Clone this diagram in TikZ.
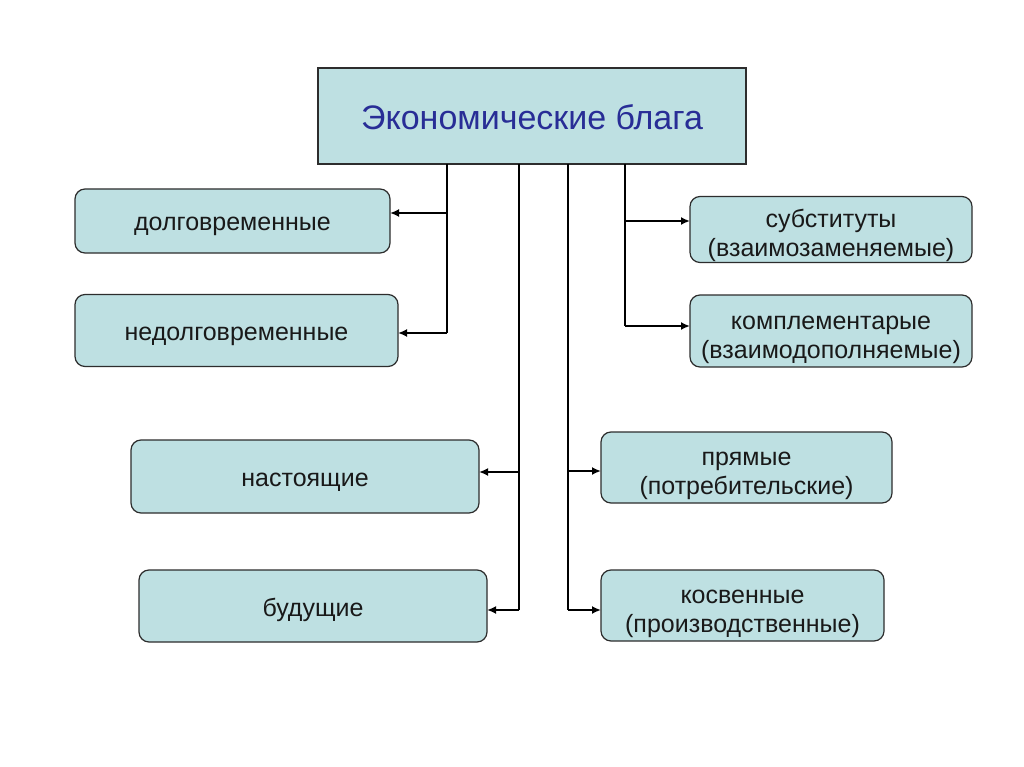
\documentclass[tikz,border=0pt]{standalone}
\usepackage{fontspec}
\setmainfont{Liberation Sans}
\usetikzlibrary{arrows.meta}
\definecolor{boxfill}{RGB}{190,224,226}
\definecolor{boxline}{RGB}{45,45,45}
\definecolor{titleblue}{RGB}{40,45,150}
\newcommand\mytopst{\rule{0pt}{31pt}}
\newcommand\mybotst{\rule[-6pt]{0pt}{6pt}}
\tikzset{
  box/.style={draw=boxline, line width=1.2pt, fill=boxfill, rounded corners=10pt,
    inner sep=0pt, outer sep=0pt, align=center, font=\fontsize{25}{29}\selectfont, text=black!90},
  onebox/.style={box, text height=26pt, text depth=6pt},
  titlebox/.style={draw=boxline, line width=1.2pt, fill=boxfill, inner sep=0pt, outer sep=0pt,
    font=\fontsize{34}{40}\selectfont, text=titleblue, text height=35pt, text depth=7pt},
  trunk/.style={draw=black, line width=2.2pt},
  arr/.style={draw=black, line width=2.2pt, -{Latex[length=9pt,width=8pt]}}
}
\begin{document}
\begin{tikzpicture}[x=1pt,y=-1pt]
\useasboundingbox (0,0) rectangle (1024,767);
\fill[white] (0,0) rectangle (1024,767);
\node[titlebox, minimum width=428pt, minimum height=96pt] (top) at (532,116) {Экономические блага};
\node[onebox, minimum width=315pt, minimum height=64pt] (dolg) at (232.5,221) {долговременные};
\node[onebox, minimum width=323pt, minimum height=72pt] (nedolg) at (236.5,330.5) {недолговременные};
\node[onebox, minimum width=348pt, minimum height=73pt] (nast) at (305,476.5) {настоящие};
\node[onebox, minimum width=348pt, minimum height=72pt] (bud) at (313,606) {будущие};
\node[box, minimum width=282pt, minimum height=65pt] (subst) at (831,229.5) {\mytopst субституты\\(взаимозаменяемые)\mybotst};
\node[box, minimum width=282pt, minimum height=72pt] (kompl) at (831,331) {\mytopst комплементарые\\(взаимодополняемые)\mybotst};
\node[box, minimum width=291pt, minimum height=71pt] (pryam) at (746.5,467.5) {\mytopst прямые\\(потребительские)\mybotst};
\node[box, minimum width=283pt, minimum height=71pt] (kosv) at (742.5,605.5) {\mytopst косвенные\\(производственные)\mybotst};
% junctions
\coordinate (a1) at (447,213);
\coordinate (a2) at (447,333);
\coordinate (b1) at (519,472);
\coordinate (b2) at (519,610);
\coordinate (c1) at (568,471);
\coordinate (c2) at (568,610);
\coordinate (d1) at (625,221);
\coordinate (d2) at (625,326);
% trunks
\draw[trunk] (a2 |- top.south) -- (a2);
\draw[trunk] (b2 |- top.south) -- (b2);
\draw[trunk] (c2 |- top.south) -- (c2);
\draw[trunk] (d2 |- top.south) -- (d2);
% arrows
\draw[arr] (a1) -- (a1 -| dolg.east);
\draw[arr] (a2) -- (a2 -| nedolg.east);
\draw[arr] (b1) -- (b1 -| nast.east);
\draw[arr] (b2) -- (b2 -| bud.east);
\draw[arr] (c1) -- (c1 -| pryam.west);
\draw[arr] (c2) -- (c2 -| kosv.west);
\draw[arr] (d1) -- (d1 -| subst.west);
\draw[arr] (d2) -- (d2 -| kompl.west);
\end{tikzpicture}
\end{document}
